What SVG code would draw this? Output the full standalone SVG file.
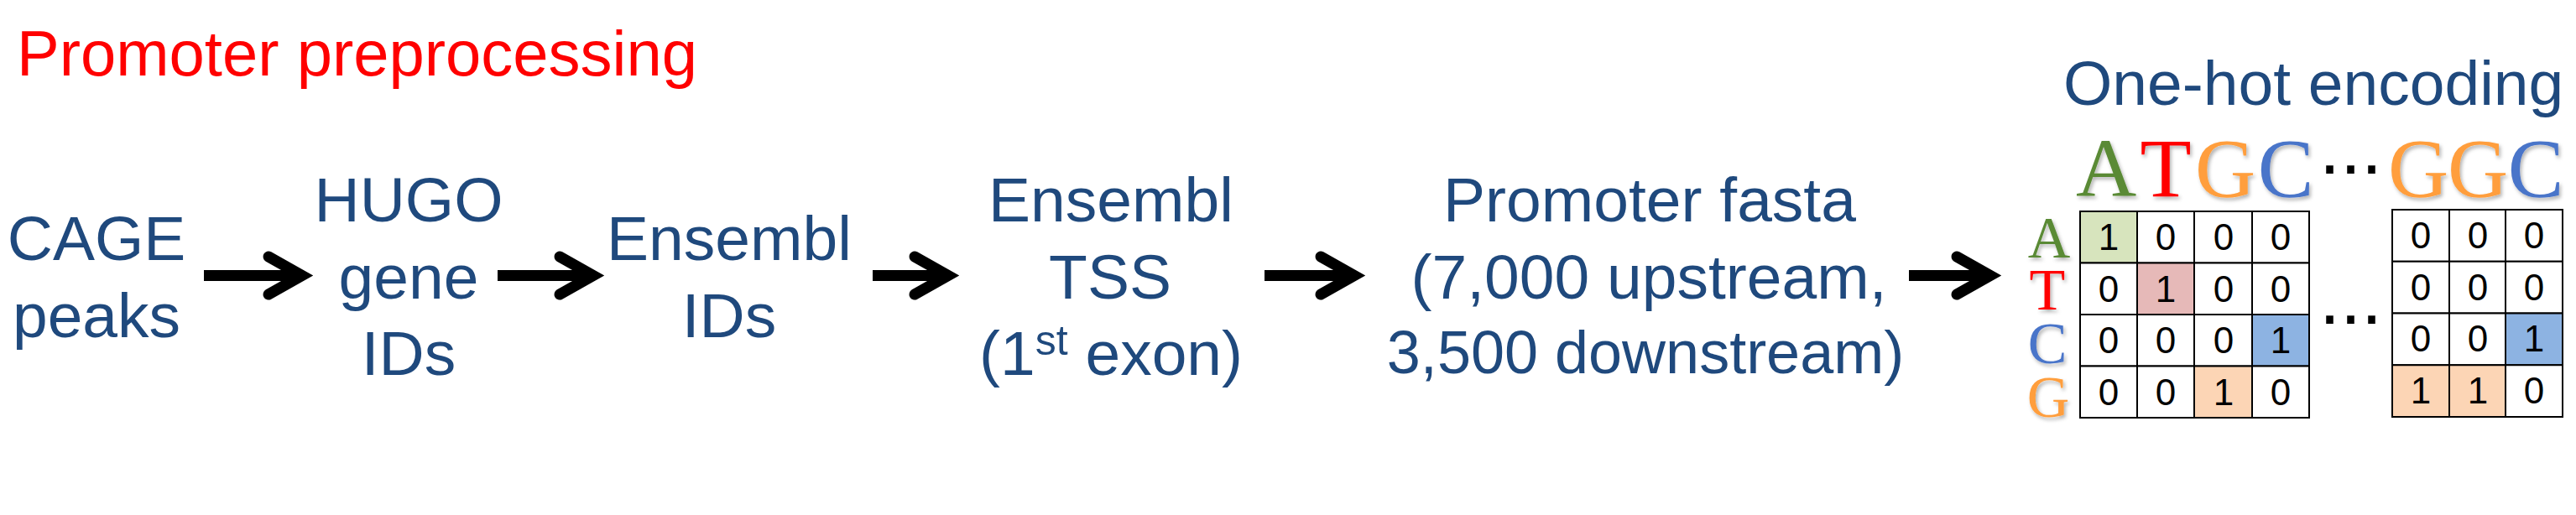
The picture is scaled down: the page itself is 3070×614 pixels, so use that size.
<svg xmlns="http://www.w3.org/2000/svg" width="3070" height="614" viewBox="0 0 3070 614">
<defs>
<style>
.t{font-family:"Liberation Sans",Arial,sans-serif;fill:#1f497d;font-size:75px;text-anchor:middle}
.title{font-family:"Liberation Sans",Arial,sans-serif;fill:#ff0000;font-size:76px}
.shaft{stroke:#000;stroke-width:13;fill:none}
.head{stroke:#000;stroke-width:13;fill:none;stroke-linecap:round;stroke-linejoin:miter;stroke-miterlimit:10}
.nuc{font-family:"Liberation Serif","DejaVu Serif",serif;text-anchor:middle;filter:url(#sh)}
.cell{stroke:#000;stroke-width:2;fill:#fff}
.d{font-family:"Liberation Sans",Arial,sans-serif;font-size:44px;fill:#000;text-anchor:middle}
.dots{font-family:"Liberation Sans",Arial,sans-serif;font-size:90px;fill:#000}
.gA{fill:#5a8a36}.gT{fill:#ff0000}.gG{fill:#ff9e3d}.gC{fill:#4a74c9}
</style>
<filter id="sh" x="-20%" y="-20%" width="140%" height="140%">
<feDropShadow dx="2" dy="3" stdDeviation="2" flood-color="#000" flood-opacity="0.3"/>
</filter>
</defs>
<rect width="3070" height="614" fill="#fff"/>

<text class="title" x="20" y="90">Promoter preprocessing</text>

<g id="node-cage">
<text class="t" x="115" y="310">CAGE</text>
<text class="t" x="115" y="402">peaks</text>
</g>
<g id="node-hugo">
<text class="t" x="487" y="264">HUGO</text>
<text class="t" x="487" y="356">gene</text>
<text class="t" x="487" y="447">IDs</text>
</g>
<g id="node-ensembl-ids">
<text class="t" x="869" y="310">Ensembl</text>
<text class="t" x="869" y="402">IDs</text>
</g>
<g id="node-tss">
<text class="t" x="1324" y="264">Ensembl</text>
<text class="t" x="1323" y="356">TSS</text>
<text class="t" x="1167" y="447" style="text-anchor:start">(1<tspan font-size="50" dy="-24">st</tspan><tspan dy="24"> exon)</tspan></text>
</g>
<g id="node-fasta">
<text class="t" x="1966" y="264">Promoter fasta</text>
<text class="t" x="1965" y="356" font-size="76">(7,000 upstream,</text>
<text class="t" x="1961" y="445" style="font-size:72px">3,500 downstream)</text>
</g>

<g id="connectors">
<line class="shaft" x1="243" y1="328.5" x2="362" y2="328.5"/>
<path class="head" d="M320,306 L360,328.5 L320,351"/>
<line class="shaft" x1="593" y1="328.5" x2="709" y2="328.5"/>
<path class="head" d="M667,306 L707,328.5 L667,351"/>
<line class="shaft" x1="1040" y1="328.5" x2="1132" y2="328.5"/>
<path class="head" d="M1090,306 L1130,328.5 L1090,351"/>
<line class="shaft" x1="1507" y1="328.5" x2="1616" y2="328.5"/>
<path class="head" d="M1574,306 L1614,328.5 L1574,351"/>
<line class="shaft" x1="2275" y1="328.5" x2="2374" y2="328.5"/>
<path class="head" d="M2332,306 L2372,328.5 L2332,351"/>
</g>

<g id="node-onehot">
<text class="t" x="2459" y="125" style="text-anchor:start">One-hot encoding</text>
<g id="sequence" font-size="100">
<text class="nuc gA" x="2510" y="234">A</text>
<text class="nuc gT" x="2581" y="234">T</text>
<text class="nuc gG" x="2652" y="234">G</text>
<text class="nuc gC" x="2724" y="234">C</text>
<text class="dots" x="2764" y="207">...</text>
<text class="nuc gG" x="2882" y="234">G</text>
<text class="nuc gG" x="2953" y="234">G</text>
<text class="nuc gC" x="3022" y="234">C</text>
</g>
<g id="row-labels" font-size="70">
<text class="nuc gA" x="2442" y="307">A</text>
<text class="nuc gT" x="2440" y="369">T</text>
<text class="nuc gC" x="2440" y="433">C</text>
<text class="nuc gG" x="2441" y="497">G</text>
</g>
<g id="matrix-1">
<rect class="cell" x="2479" y="252" width="68" height="61.5" style="fill:#d7e4bd"/>
<rect class="cell" x="2547" y="252" width="68" height="61.5"/>
<rect class="cell" x="2615" y="252" width="69" height="61.5"/>
<rect class="cell" x="2684" y="252" width="68" height="61.5"/>
<rect class="cell" x="2479" y="313.5" width="68" height="61.5"/>
<rect class="cell" x="2547" y="313.5" width="68" height="61.5" style="fill:#e6b9b8"/>
<rect class="cell" x="2615" y="313.5" width="69" height="61.5"/>
<rect class="cell" x="2684" y="313.5" width="68" height="61.5"/>
<rect class="cell" x="2479" y="375" width="68" height="61.5"/>
<rect class="cell" x="2547" y="375" width="68" height="61.5"/>
<rect class="cell" x="2615" y="375" width="69" height="61.5"/>
<rect class="cell" x="2684" y="375" width="68" height="61.5" style="fill:#8db3e2"/>
<rect class="cell" x="2479" y="436.5" width="68" height="61.5"/>
<rect class="cell" x="2547" y="436.5" width="68" height="61.5"/>
<rect class="cell" x="2615" y="436.5" width="69" height="61.5" style="fill:#fcd5b5"/>
<rect class="cell" x="2684" y="436.5" width="68" height="61.5"/>
<text class="d" x="2513" y="298">1</text><text class="d" x="2581" y="298">0</text><text class="d" x="2650" y="298">0</text><text class="d" x="2718" y="298">0</text>
<text class="d" x="2513" y="360">0</text><text class="d" x="2581" y="360">1</text><text class="d" x="2650" y="360">0</text><text class="d" x="2718" y="360">0</text>
<text class="d" x="2513" y="421">0</text><text class="d" x="2581" y="421">0</text><text class="d" x="2650" y="421">0</text><text class="d" x="2718" y="421">1</text>
<text class="d" x="2513" y="483">0</text><text class="d" x="2581" y="483">0</text><text class="d" x="2650" y="483">1</text><text class="d" x="2718" y="483">0</text>
</g>
<text class="dots" x="2764" y="386">...</text>
<g id="matrix-2">
<rect class="cell" x="2851" y="250" width="68" height="61.75"/>
<rect class="cell" x="2919" y="250" width="67" height="61.75"/>
<rect class="cell" x="2986" y="250" width="68" height="61.75"/>
<rect class="cell" x="2851" y="311.75" width="68" height="61.75"/>
<rect class="cell" x="2919" y="311.75" width="67" height="61.75"/>
<rect class="cell" x="2986" y="311.75" width="68" height="61.75"/>
<rect class="cell" x="2851" y="373.5" width="68" height="61.75"/>
<rect class="cell" x="2919" y="373.5" width="67" height="61.75"/>
<rect class="cell" x="2986" y="373.5" width="68" height="61.75" style="fill:#8db3e2"/>
<rect class="cell" x="2851" y="435.25" width="68" height="61.75" style="fill:#fcd5b5"/>
<rect class="cell" x="2919" y="435.25" width="67" height="61.75" style="fill:#fcd5b5"/>
<rect class="cell" x="2986" y="435.25" width="68" height="61.75"/>
<text class="d" x="2885" y="296">0</text><text class="d" x="2953" y="296">0</text><text class="d" x="3020" y="296">0</text>
<text class="d" x="2885" y="358">0</text><text class="d" x="2953" y="358">0</text><text class="d" x="3020" y="358">0</text>
<text class="d" x="2885" y="419">0</text><text class="d" x="2953" y="419">0</text><text class="d" x="3020" y="419">1</text>
<text class="d" x="2885" y="481">1</text><text class="d" x="2953" y="481">1</text><text class="d" x="3020" y="481">0</text>
</g>
</g>
</svg>
